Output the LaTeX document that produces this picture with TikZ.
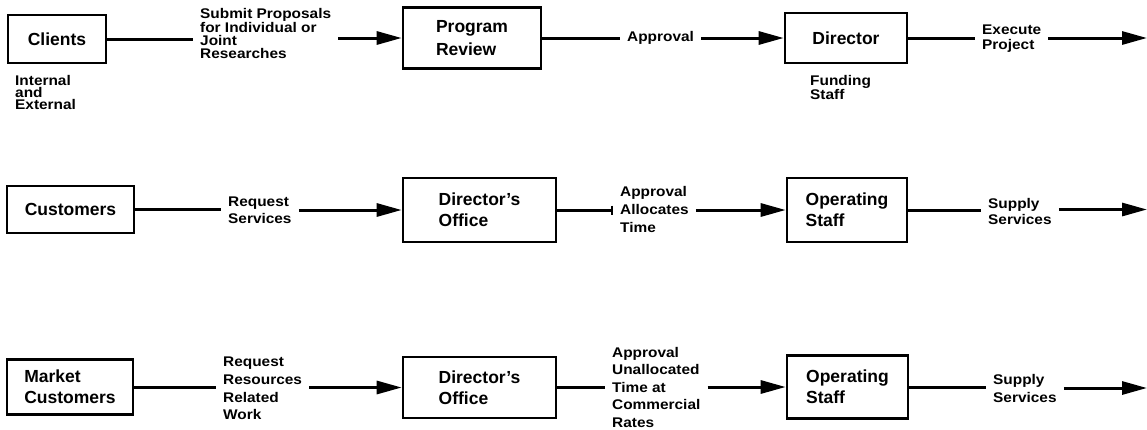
\documentclass[tikz,border=0pt]{standalone}
\usepackage{fontspec}
\setmainfont{Liberation Sans}
\newfontfamily\labfont[FakeStretch=1.1]{Liberation Sans}
\usetikzlibrary{arrows.meta}
\tikzset{
  box/.style={draw, line width=2.6pt, inner sep=0pt, align=left,
    font=\bfseries\fontsize{17.5}{21}\selectfont},
  lab/.style={anchor=west, inner xsep=7pt, inner ysep=0pt, align=left,
    font=\labfont\bfseries\fontsize{14}{#1}\selectfont},
  lab/.default=17.5,
  conn/.style={line width=3pt},
  arr/.style={line width=3pt, -{Triangle[length=25pt,width=13pt]}},
  barend/.style={line width=3pt, -{Bar[width=9pt,line width=1.6pt]}}
}
\begin{document}
\begin{tikzpicture}[x=1pt,y=-1pt]
\useasboundingbox (0,0) rectangle (1147,429);
% ---------- row 1 ----------
\node[box, minimum width=98pt, minimum height=48pt] (c1) at (57,39) {Clients};
\node[box, minimum width=138pt, minimum height=61pt,
  font=\bfseries\fontsize{17.5}{23}\selectfont] (p1) at (472,38) {Program\\Review};
\node[box, minimum width=122pt, minimum height=50pt] (d1) at (846,38) {Director};
\node[lab=13] (l1) at (193,33.5) {Submit Proposals\\for Individual or\\Joint\\Researches};
\node[lab] (l2) at (620,38) {Approval};
\node[lab=15] (l3) at (975,38.5) {Execute\\Project};
\node[lab=12, inner xsep=0pt] (n1) at (15,92) {Internal\\and\\External};
\node[lab=14, inner xsep=0pt] (n2) at (810,87) {Funding\\Staff};
\coordinate (e1) at (1147,38);
\draw[conn] (c1.east) -- (c1.east -| l1.west);
\draw[arr] (l1.east |- p1.west) -- (p1.west);
\draw[conn] (p1.east) -- (p1.east -| l2.west);
\draw[arr] (l2.east |- d1.west) -- (d1.west);
\draw[conn] (d1.east) -- (d1.east -| l3.west);
\draw[arr] (l3.east |- e1) -- (e1);
% ---------- row 2 ----------
\node[box, minimum width=127pt, minimum height=47pt] (c2) at (70.5,209.5) {Customers};
\node[box, minimum width=153pt, minimum height=64pt] (o2) at (479.5,210) {Director's\\Office};
\node[box, minimum width=120pt, minimum height=64pt] (s2) at (847,210) {Operating\\Staff};
\node[lab=17] (m1) at (221,210.5) {Request\\Services};
\node[lab=18] (m2) at (613,209) {Approval\\Allocates\\Time};
\node[lab=16] (m3) at (981,211) {Supply\\Services};
\coordinate (e2) at (1147,209.5);
\draw[conn] (c2.east) -- (c2.east -| m1.west);
\draw[arr] (m1.east |- o2.west) -- (o2.west);
\draw[barend] (o2.east) -- (o2.east -| m2.west);
\draw[arr] (m2.east |- s2.west) -- (s2.west);
\draw[conn] (s2.east) -- (s2.east -| m3.west);
\draw[arr] (m3.east |- e2) -- (e2);
% ---------- row 3 ----------
\node[box, minimum width=126pt, minimum height=55pt] (c3) at (70,387) {Market\\Customers};
\node[box, minimum width=153pt, minimum height=61pt] (o3) at (479.5,387.5) {Director's\\Office};
\node[box, minimum width=121pt, minimum height=63pt] (s3) at (847.5,387) {Operating\\Staff};
\node[lab=17.7] (r1) at (216,388.5) {Request\\Resources\\Related\\Work};
\node[lab=17.5] (r2) at (605,387) {Approval\\Unallocated\\Time at\\Commercial\\Rates};
\node[lab=18] (r3) at (986,388) {Supply\\Services};
\coordinate (e3) at (1147,388);
\draw[conn] (c3.east) -- (c3.east -| r1.west);
\draw[arr] (r1.east |- o3.west) -- (o3.west);
\draw[conn] (o3.east) -- (o3.east -| r2.west);
\draw[arr] (r2.east |- s3.west) -- (s3.west);
\draw[conn] (s3.east) -- (s3.east -| r3.west);
\draw[arr] (r3.east |- e3) -- (e3);
\end{tikzpicture}
\end{document}
